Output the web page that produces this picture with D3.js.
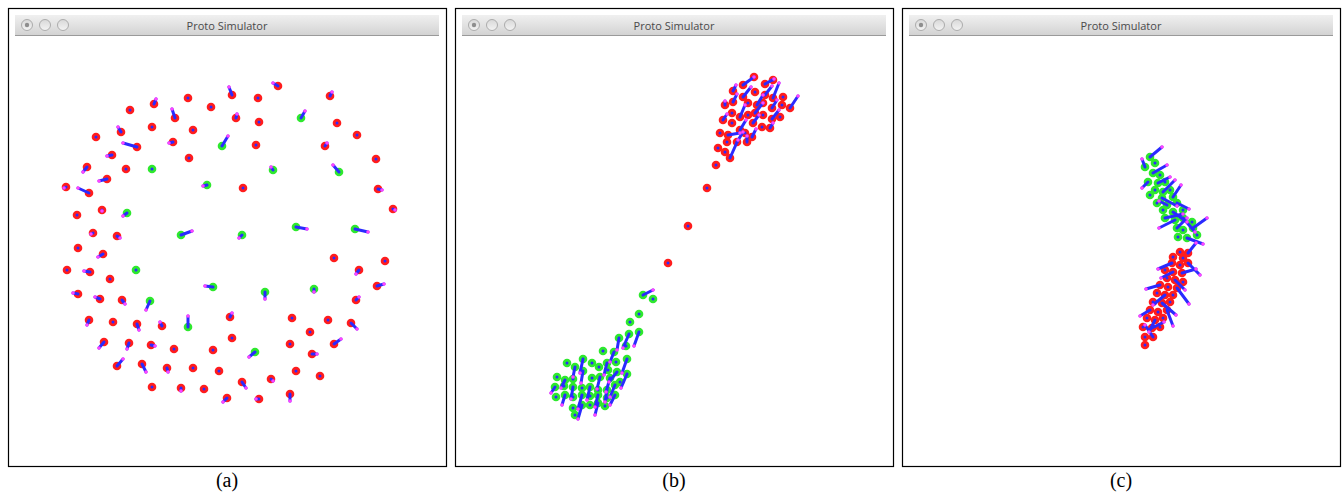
<!DOCTYPE html>
<html><head><meta charset="utf-8">
<script src="https://cdn.jsdelivr.net/npm/d3@7"></script>
<style>body{margin:0;background:#fff}svg{display:block}</style>
</head><body>
<svg id="c" width="1342" height="493"></svg>
<script>
// panel captions
const captions = ["(a)", "(b)", "(c)"];
const windowTitle = "Proto Simulator";
// node data in simulator-local units: [x, y, team, vx, vy]  (team r=red, g=green)
const nodesA = [
[122,102,"r",0,0],[146,96,"r",2,-5],[180,90,"r",0,0],[203,99,"r",0,0],[224,87,"r",-3,-8],
[167,110,"r",-3,-9],[228,110,"r",1,-4],[144,119,"r",0,0],[185,122,"r",0,0],[88,129,"r",0,0],
[113,124,"r",-3,-5],[129,139,"r",-14,-4],[165,134,"r",-4,1],[214,138,"g",6,-10],[104,147,"r",-5,1],
[181,150,"r",0,0],[79,159,"r",-4,5],[118,161,"r",0,0],[144,161,"g",0,0],[99,171,"r",-8,2],
[58,179,"r",-2,1],[81,185,"r",-11,-5],[199,177,"g",-4,1],[69,207,"r",0,0],[94,202,"r",0,1],
[119,205,"g",-4,3],[85,225,"r",-2,1],[109,228,"r",3,2],[173,227,"g",11,-4],[270,78,"r",-5,-3],
[250,90,"r",0,0],[322,88,"r",2,-4],[251,114,"r",0,0],[293,110,"g",4,-7],[329,115,"r",0,0],
[349,127,"r",0,0],[248,137,"r",0,0],[317,138,"r",2,-3],[368,151,"r",0,0],[265,162,"g",-2,-3],
[331,164,"g",-6,-7],[370,181,"r",4,1],[235,180,"r",0,0],[385,201,"r",2,1],[288,219,"g",11,2],
[347,221,"g",13,3],[234,227,"g",-3,3],[70,240,"r",0,0],[95,246,"r",-5,3],[59,262,"r",0,0],
[82,264,"r",-6,-1],[102,271,"r",0,0],[128,262,"g",0,0],[205,279,"g",-8,-1],[70,286,"r",-5,-1],
[92,291,"r",-5,-2],[114,292,"r",3,4],[142,293,"g",-4,9],[81,312,"r",-2,5],[105,314,"r",0,0],
[129,316,"r",2,6],[154,318,"r",-2,-4],[180,319,"g",0,-11],[222,309,"r",2,-4],[224,330,"r",0,0],
[96,334,"r",-5,6],[121,335,"r",-2,6],[143,337,"r",4,1],[166,341,"r",0,0],[205,342,"r",0,0],
[109,358,"r",6,-7],[134,356,"r",4,8],[159,360,"r",1,4],[185,360,"r",0,0],[211,363,"r",0,0],
[144,379,"r",0,0],[173,380,"r",0,3],[196,381,"r",0,0],[219,390,"r",-4,4],[326,250,"r",0,0],
[377,253,"r",0,0],[351,262,"r",-3,4],[369,278,"r",7,-2],[257,284,"g",0,7],[306,281,"g",0,3],
[348,292,"r",3,-3],[284,310,"r",0,0],[320,312,"r",0,0],[343,315,"r",6,6],[302,324,"r",0,0],
[247,344,"g",-6,5],[282,336,"r",0,0],[326,336,"r",7,-5],[304,346,"r",5,0],[288,363,"r",0,0],
[312,368,"r",0,0],[263,371,"r",2,2],[234,374,"r",4,6],[251,391,"r",-3,0],[282,386,"r",0,7]
];
const nodesB = [
[252,180,"r",0,0],[233,218,"r",0,0],[213,255,"r",0,0],
[288,77,"r",11,-8],[299,69,"r",0,0],[310,76,"r",9,-5],[318,72,"r",0,0],[278,83,"r",3,-6],
[288,89,"r",8,-10],[300,84,"r",0,0],[310,87,"r",7,-9],[318,90,"r",6,-15],[328,89,"r",0,0],
[270,97,"r",0,-4],[278,94,"r",4,-8],[293,95,"r",0,0],[302,97,"r",6,-10],[308,95,"r",0,0],
[317,100,"r",5,-8],[327,97,"r",0,0],[335,100,"r",8,-12],[277,105,"r",0,0],[285,109,"r",5,-12],
[293,107,"r",0,0],[300,105,"r",8,-10],[308,107,"r",0,0],[317,111,"r",7,-9],[325,109,"r",0,0],
[268,112,"r",4,-6],[277,115,"r",0,0],[285,122,"r",6,-10],[298,115,"r",6,-8],[307,119,"r",0,0],
[315,120,"r",3,-5],[265,125,"r",0,0],[273,127,"r",12,-2],[290,125,"r",0,0],[297,129,"r",4,-8],
[263,140,"r",0,0],[272,134,"r",0,0],[282,134,"r",6,-10],[292,134,"r",0,-6],[270,144,"r",0,0],
[275,150,"r",8,-18],[261,157,"r",0,0],
[188,287,"g",10,-5],[198,291,"g",0,0],[184,306,"g",0,0],[175,314,"g",0,0],[184,324,"g",-5,14],
[174,326,"g",-6,14],[164,330,"g",-2,12],[171,338,"g",0,0],[148,343,"g",0,0],[159,344,"g",-4,10],
[128,351,"g",-3,14],[137,355,"g",0,0],[112,355,"g",0,0],[120,359,"g",-2,10],[172,351,"g",-5,14],
[161,354,"g",0,0],[152,355,"g",-3,12],[144,359,"g",0,0],[162,364,"g",-8,10],[172,366,"g",-6,14],
[102,369,"g",0,0],[110,372,"g",-4,8],[118,371,"g",0,0],[128,363,"g",-2,12],[137,370,"g",0,0],
[145,369,"g",-3,12],[153,362,"g",0,0],[155,370,"g",-4,14],[165,374,"g",0,0],[160,377,"g",-5,12],
[100,379,"g",-4,6],[109,378,"g",0,0],[118,379,"g",-2,12],[127,380,"g",0,0],[135,379,"g",-3,13],
[143,382,"g",0,0],[152,382,"g",-2,12],[101,389,"g",0,0],[110,387,"g",-3,10],[118,389,"g",0,0],
[127,387,"g",-4,14],[135,388,"g",0,0],[143,387,"g",-3,12],[152,390,"g",0,0],[160,387,"g",-5,10],
[118,400,"g",0,0],[127,397,"g",-4,14],[135,397,"g",0,0],[143,395,"g",-3,12],[150,398,"g",0,0],
[120,407,"g",0,0]
];
const nodesC = [
[248,149,"g",12,-10],[253,155,"g",0,0],[243,159,"g",-3,-8],[251,165,"g",14,-8],[258,167,"g",0,0],
[246,174,"g",-6,6],[256,175,"g",12,-6],[263,174,"g",0,0],[253,182,"g",0,0],[261,184,"g",12,-12],
[268,182,"g",0,0],[248,187,"g",0,0],[260,190,"g",15,8],[271,189,"g",8,-12],[255,195,"g",0,0],
[265,197,"g",-8,-4],[275,195,"g",12,6],[261,202,"g",0,0],[271,204,"g",14,10],[281,202,"g",0,0],
[263,210,"g",18,-4],[273,212,"g",-16,8],[281,210,"g",12,14],[290,214,"g",0,0],[275,220,"g",10,-10],
[281,222,"g",0,0],[291,220,"g",14,-10],[276,229,"g",0,0],[285,230,"g",16,6],[295,227,"g",0,0],
[278,244,"r",0,0],[286,245,"r",8,-10],[271,249,"r",0,0],[281,250,"r",0,0],[270,255,"r",-14,6],
[278,257,"r",0,0],[286,255,"r",12,12],[263,262,"r",0,0],[271,264,"r",-12,6],[280,265,"r",14,-4],
[265,270,"r",0,0],[273,272,"r",10,10],[281,274,"r",0,0],[258,277,"r",-14,4],[266,279,"r",0,0],
[275,280,"r",12,16],[255,285,"r",0,0],[263,287,"r",-12,10],[271,287,"r",0,0],[251,294,"r",0,0],
[260,295,"r",14,12],[268,294,"r",0,0],[248,302,"r",-10,6],[256,304,"r",0,0],[265,302,"r",6,16],
[245,310,"r",0,0],[253,312,"r",-6,12],[261,310,"r",0,0],[241,319,"r",0,0],[250,320,"r",12,-6],
[258,319,"r",0,0],[243,329,"r",0,0],[251,329,"r",-8,-12],[243,337,"r",0,0]
];
const panels = [nodesA, nodesB, nodesC];

const svg = d3.select("#c");
const W = 438, H = 458;
const lefts = [8, 455, 902];
const teamColor = {r: "#ff1e1e", g: "#2ee82e"};

const defs = svg.append("defs");
const tg = defs.append("linearGradient").attr("id","tb").attr("x1",0).attr("y1",0).attr("x2",0).attr("y2",1);
tg.append("stop").attr("offset","0%").attr("stop-color","#f0f0f0");
tg.append("stop").attr("offset","100%").attr("stop-color","#d3d3d3");
const bg = defs.append("linearGradient").attr("id","btn").attr("x1",0).attr("y1",0).attr("x2",0).attr("y2",1);
bg.append("stop").attr("offset","0%").attr("stop-color","#d8d8d8");
bg.append("stop").attr("offset","100%").attr("stop-color","#f4f4f4");
defs.append("filter").attr("id","soft").append("feGaussianBlur").attr("stdDeviation",0.45);

panels.forEach((nodes, i) => {
  const L = lefts[i];
  const x = d3.scaleLinear().domain([0, W]).range([L, L + W]);
  const y = d3.scaleLinear().domain([0, H]).range([8, 8 + H]);
  const g = svg.append("g");
  g.append("rect").attr("x", L + 0.5).attr("y", 8.5).attr("width", W).attr("height", H)
    .attr("fill", "#fff").attr("stroke", "#000").attr("stroke-width", 1.2);
  // title bar
  g.append("rect").attr("x", L + 7).attr("y", 15).attr("width", W - 14).attr("height", 20).attr("fill", "url(#tb)");
  g.append("line").attr("x1", L + 7).attr("x2", L + W - 7).attr("y1", 35.5).attr("y2", 35.5).attr("stroke", "#9a9a9a");
  [19, 37, 55].forEach((dx, k) => {
    g.append("circle").attr("cx", L + dx).attr("cy", 25).attr("r", 5.5)
      .attr("fill", "url(#btn)").attr("stroke", "#a5a5a5").attr("stroke-width", 0.9);
    if (k === 0) g.append("circle").attr("cx", L + dx).attr("cy", 25).attr("r", 2.2).attr("fill", "#8e8e8e");
  });
  g.append("text").attr("x", L + W / 2).attr("y", 29.5).attr("text-anchor", "middle")
    .attr("font-family", "'Open Sans', 'DejaVu Sans', sans-serif").attr("font-size", 11)
    .attr("fill", "#4a4a4a").text(windowTitle);

  const m = g.append("g").attr("filter", "url(#soft)");
  m.selectAll("circle.body").data(nodes).join("circle").attr("class", "body")
    .attr("cx", d => x(d[0])).attr("cy", d => y(d[1])).attr("r", 4.3)
    .attr("fill", d => teamColor[d[2]]);
  m.selectAll("line.vec").data(nodes).join("line").attr("class", "vec")
    .attr("x1", d => x(d[0])).attr("y1", d => y(d[1]))
    .attr("x2", d => x(d[0] + d[3])).attr("y2", d => y(d[1] + d[4]))
    .attr("stroke", "#2a2aff").attr("stroke-width", 3).attr("stroke-linecap", "round");
  m.selectAll("circle.tip").data(nodes.filter(d => d[3] || d[4])).join("circle").attr("class", "tip")
    .attr("cx", d => x(d[0] + d[3])).attr("cy", d => y(d[1] + d[4])).attr("r", 1.8)
    .attr("fill", "#ff44ff");

  svg.append("text").attr("x", L + W / 2).attr("y", 487).attr("text-anchor", "middle")
    .attr("font-family", "'Liberation Serif', 'Times New Roman', serif").attr("font-size", 20)
    .attr("fill", "#000").text(captions[i]);
});
</script>
</body></html>
